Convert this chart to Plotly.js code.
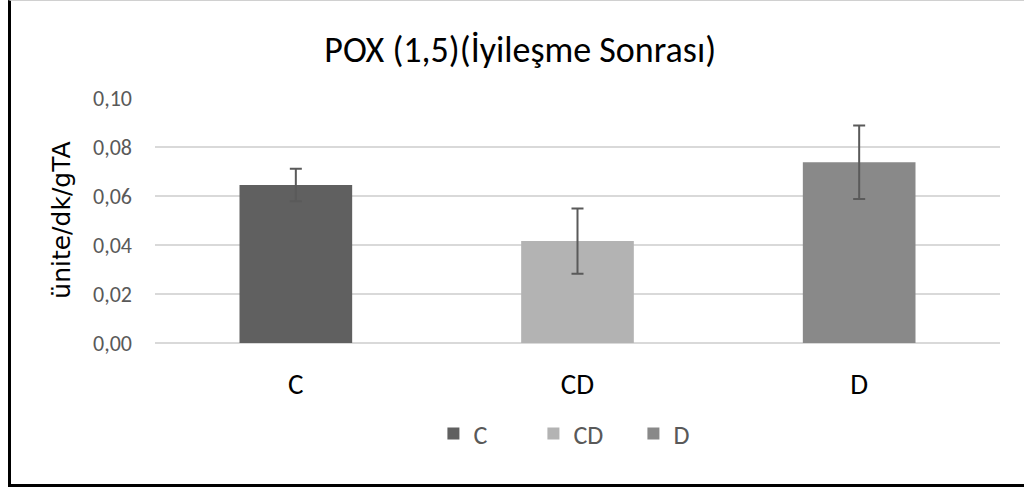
<!DOCTYPE html>
<html>
<head>
<meta charset="utf-8">
<script src="https://cdn.plot.ly/plotly-3.0.1.min.js"></script>
<style>
html,body{margin:0;padding:0;background:#fff;}
#wrap{position:relative;width:1024px;height:490px;}
#chart{width:1024px;height:490px;}
#frame{position:absolute;left:8px;top:0;width:1016px;height:487px;border-left:3px solid #000;border-bottom:3px solid #000;border-top:1px solid #d0d0d0;box-sizing:border-box;pointer-events:none;}
</style>
</head>
<body>
<div id="wrap"><div id="chart"></div><div id="frame"></div></div>
<script>
const categories = ["C", "CD", "D"];
const values = [0.0645, 0.0416, 0.0738];
const errors = [0.0066, 0.0133, 0.0150];
const colors = ["#606060", "#b3b3b3", "#898989"];
const yTicks = [0, 0.02, 0.04, 0.06, 0.08, 0.10];
const yTickText = ["0,00", "0,02", "0,04", "0,06", "0,08", "0,10"];

const fontMain = "Carlito, 'Liberation Sans Narrow', 'Open Sans', sans-serif";

const traces = categories.map((c, i) => ({
  type: "bar",
  name: c,
  x: [c],
  y: [values[i]],
  marker: {color: colors[i]},
  error_y: {type: "data", array: [errors[i]], visible: true, color: "#5a5a5a", thickness: 2, width: 6},
  hoverinfo: "none"
}));

const layout = {
  width: 1024,
  height: 490,
  margin: {l: 155, r: 24, t: 98, b: 147},
  paper_bgcolor: "#ffffff",
  plot_bgcolor: "#ffffff",
  barmode: "overlay",
  bargap: 0.6,
  showlegend: true,
  title: {
    text: "POX (1,5)(İyileşme Sonrası)",
    font: {family: fontMain, size: 36, color: "#000000"},
    x: 0.508, xref: "container", xanchor: "center",
    y: 0.9, yref: "container", yanchor: "middle"
  },
  xaxis: {
    type: "category",
    categoryorder: "array",
    categoryarray: categories,
    showgrid: false,
    showline: false,
    zeroline: false,
    ticks: "",
    tickfont: {family: fontMain, size: 29, color: "#000000"},
    ticklabelstandoff: 21
  },
  yaxis: {
    range: [0, 0.10],
    tickvals: yTicks,
    ticktext: yTickText,
    showgrid: true,
    gridcolor: "#d9d9d9",
    gridwidth: 1.5,
    zeroline: true,
    zerolinecolor: "#d9d9d9",
    zerolinewidth: 1.5,
    showline: false,
    ticks: "",
    tickfont: {family: fontMain, size: 22, color: "#595959"},
    ticklabelstandoff: 22
  },
  annotations: [{
    text: "ünite/dk/gTA",
    xref: "paper", yref: "paper",
    x: -0.111, y: 0.5,
    xanchor: "center", yanchor: "middle",
    textangle: -90,
    showarrow: false,
    font: {family: "'DejaVu Sans', Verdana, sans-serif", size: 25, color: "#000000"}
  }],
  legend: {
    orientation: "h",
    x: 0.507, xanchor: "center",
    y: -0.37, yanchor: "middle",
    font: {family: fontMain, size: 26, color: "#595959"},
    itemwidth: 30,
    entrywidth: 55,
    entrywidthmode: "pixels",
    traceorder: "normal"
  }
};

Plotly.newPlot("chart", traces, layout, {displayModeBar: false, staticPlot: true});
</script>
</body>
</html>
